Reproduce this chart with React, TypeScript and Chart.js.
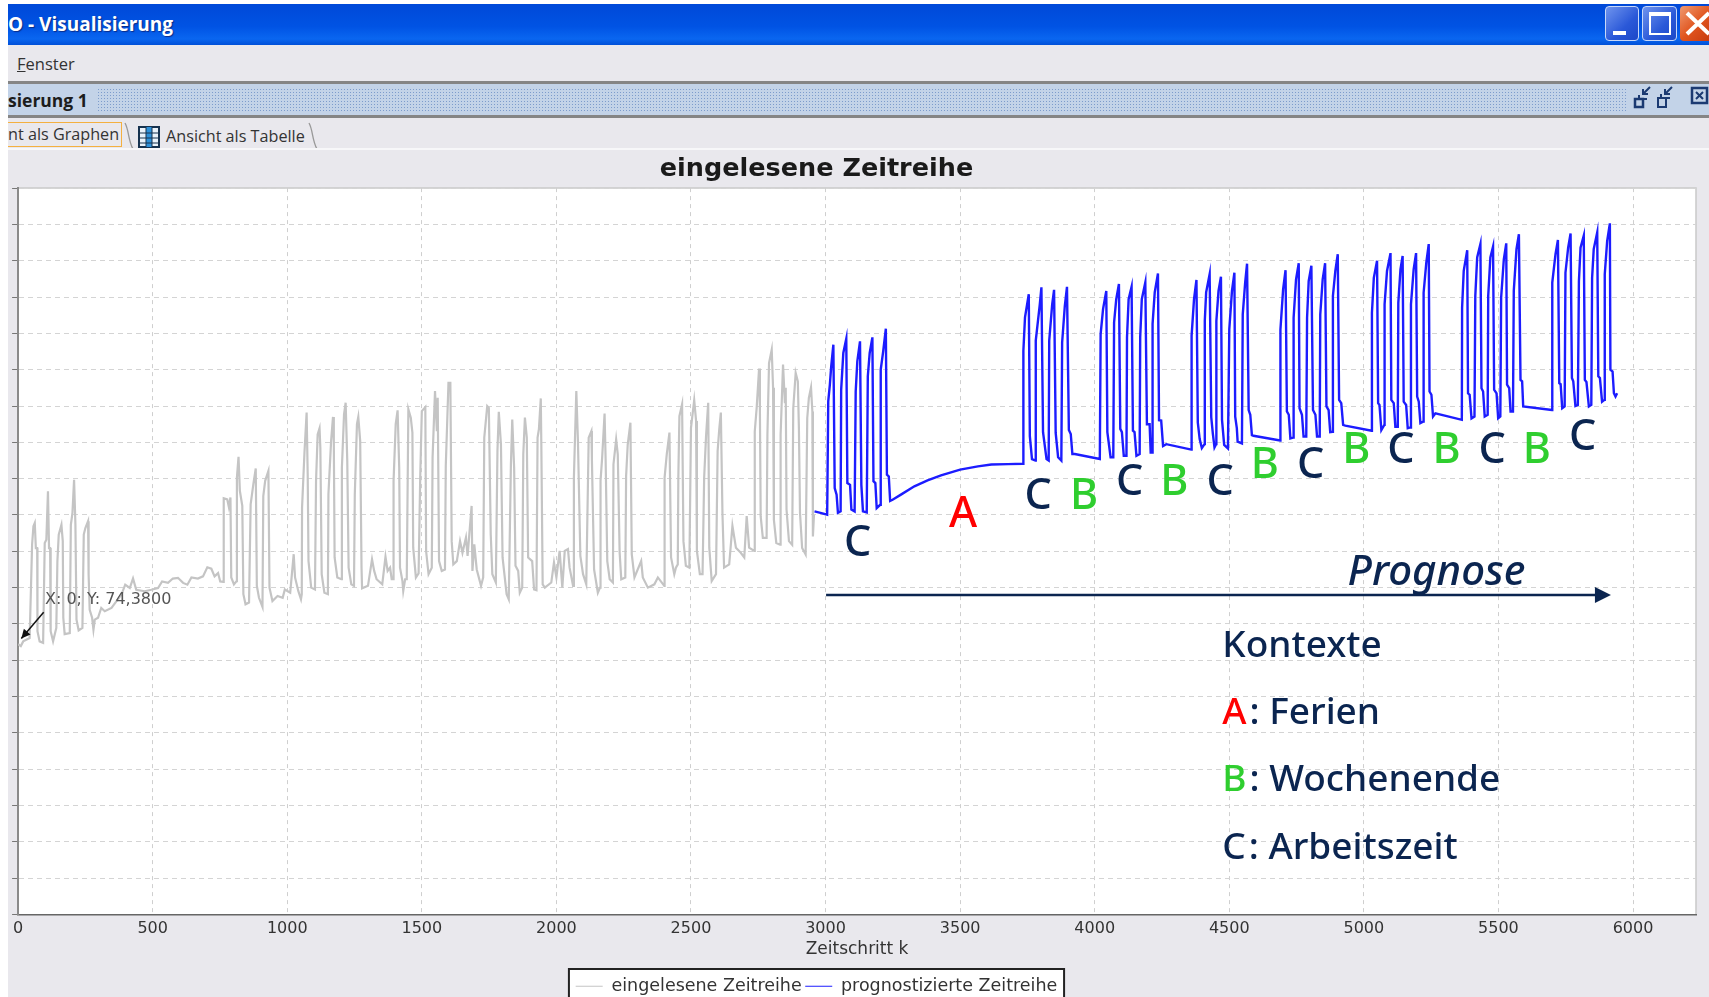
import React, { useEffect, useRef } from "react";
import { Chart, registerables } from "chart.js";

Chart.register(...registerables);

// ---------- chart text ----------
const chartTitle = "eingelesene Zeitreihe";
const xAxisTitle = "Zeitschritt k";
const observedName = "eingelesene Zeitreihe";
const forecastName = "prognostizierte Zeitreihe";
const tooltipText = "X: 0; Y: 74,3800";
const prognoseText = "Prognose";
const xTickValues = [0, 500, 1000, 1500, 2000, 2500, 3000, 3500, 4000, 4500, 5000, 5500, 6000];

// ---------- observed series: [k, value] ----------
const observedWeek1 = [[0,74.4],[10,73.9],[19,75.2],[43,76.1],[52,101.8],[57,106.9],[62,107.8],[66,100.9],[71,100.9],[72,78],[80,75.2],[93,74.8],[99,102.3],[105,103.2],[111,116.5],[115,100.9],[119,100.9],[121,78],[130,75.2],[139,78],[142,78.9],[146,97.2],[151,104.6],[161,107.3],[166,102.8],[168,81.7],[173,77.2],[192,77.5],[196,107.3],[202,110.6],[208,119.7],[213,107.3],[217,81.2],[225,78.2],[239,78.9],[244,104.6],[250,106.4],[260,108.3],[262,93.6],[266,83.9]];
const observedQuiet = [[275,81.7],[280,78.4],[285,81.2],[297,81.7],[309,84.4],[322,83.5],[347,84.4],[365,86.2],[384,88.1],[398,90.8],[415,89.9],[427,92.5],[439,89.4],[470,89],[495,89.4],[520,89.9],[535,91.7],[557,91.3],[575,92.5],[594,92.7],[613,91.3],[629,90.8],[644,92.8],[668,92.5],[687,93.1],[703,95.6],[718,95.2],[730,93.1],[743,94],[751,91.7],[763,91.6]];
const observedWeek2 = [[764,114.6],[777,114.3],[783,112.2],[789,114.8],[792,92.8],[802,90.9],[812,91.8],[813,120.3],[819,126],[824,116.6],[833,112.5],[837,88.2],[845,85.4],[858,85.9],[864,112.9],[874,118.4],[883,122.8],[887,90.5],[895,87.2],[908,84.7],[911,115.2],[918,119.4],[930,122.1],[934,90],[945,86.3],[964,87.7],[983,87.2],[991,89.5],[1011,88.6],[1024,99.2],[1029,92.8],[1041,89.1],[1051,86.8],[1054,88.2]];
const observedWeek3 = [[1055,112],[1064,127.2],[1072,138.2],[1076,121.2],[1079,97.3],[1089,90],[1103,89.5],[1107,119.4],[1113,132.2],[1120,133.9],[1123,128.5],[1128,93.7],[1138,88.6],[1151,88.2],[1153,115.7],[1163,130.4],[1170,137],[1173,130.4],[1176,98.3],[1186,92.8],[1201,92.3],[1203,123],[1211,137.7],[1217,140.9],[1223,124.9],[1228,95.5],[1238,90.9],[1248,90.5],[1251,115.7],[1259,135],[1264,137],[1271,130.4],[1276,95.5],[1278,89.8],[1300,90.5],[1315,97.8],[1323,94.6],[1332,92.3],[1353,90.9],[1365,98.5],[1373,94.6],[1382,95.5],[1388,92.3],[1394,92.3]];
const observedWeek4 = [[1395,119.4],[1403,135],[1410,138.8],[1416,123],[1419,95.5],[1428,91.8],[1431,89.1],[1438,92.3],[1444,92.3],[1450,139.1],[1459,136.8],[1465,132.7],[1468,101],[1478,92.8],[1488,93.9],[1494,120.3],[1500,138.6],[1513,139.7],[1516,100],[1525,93.7],[1537,95.5],[1540,125.8],[1549,144.1],[1556,133.1],[1559,142.3],[1564,97.3],[1574,94.6],[1586,95],[1589,123.5],[1599,146.4],[1606,146.4],[1611,102.8],[1617,96.4],[1630,97.3],[1642,102.8],[1651,99.6],[1664,103.8],[1670,98.7],[1685,112.5],[1688,94.6],[1695,101.9],[1704,95],[1720,90.5],[1728,92.8]];
const observedWeek5 = [[1732,131.3],[1743,140],[1749,139.5],[1756,104.7],[1762,93.7],[1775,91.4],[1781,127.6],[1786,138.4],[1794,129.4],[1800,98.3],[1815,88.2],[1823,86.8],[1831,123.9],[1836,136.3],[1843,123],[1848,96],[1858,94.6],[1864,88.6],[1873,90],[1877,126.7],[1883,136.8],[1890,131.3],[1895,98.3],[1910,97.3],[1917,89.5],[1926,89.3],[1930,131.3],[1935,133.6],[1942,142.1],[1944,129.4],[1949,90.9],[1957,90],[1981,91.4],[1991,96.9],[2000,92.8],[2012,100.1],[2022,90],[2031,100.1],[2043,100.6],[2049,95.5],[2062,90.5]];
const observedWeek6 = [[2065,120.3],[2074,144.1],[2080,130.4],[2089,98.7],[2099,93.7],[2111,90.9],[2120,131.3],[2130,133.1],[2132,124.9],[2140,95],[2154,88.6],[2162,90],[2164,119.4],[2170,125.8],[2179,137.9],[2183,124.9],[2189,97.3],[2198,92.3],[2210,91.4],[2212,123.9],[2222,130.8],[2228,126.7],[2235,99.6],[2241,92.3],[2256,92.8],[2259,120.7],[2265,129.4],[2275,135.4],[2280,99.2],[2290,92.8],[2315,97.3],[2321,92.8],[2340,90],[2364,90.9],[2377,92.8],[2401,90.5]];
const observedWeek7 = [[2402,120.3],[2410,126.7],[2420,132.7],[2426,98.3],[2438,93.7],[2444,95.5],[2451,96.4],[2453,120.3],[2457,137.2],[2467,140.5],[2472,102.8],[2481,96],[2494,95.5],[2500,134],[2512,141.6],[2519,135.9],[2522,100.1],[2533,93.7],[2543,93.7],[2549,120.3],[2556,131.7],[2564,140.9],[2568,101],[2577,91.8],[2593,93.7],[2599,127.6],[2605,133.6],[2611,138.2],[2617,110.2],[2623,95.5],[2642,96.4],[2654,107],[2667,101],[2685,99.6],[2698,98.3],[2707,109.7],[2716,101],[2735,100.1]];
const observedWeek8 = [[2737,133],[2744,139.4],[2753,150.3],[2756,139.9],[2759,109.6],[2767,103.7],[2781,103.7],[2784,132.1],[2790,151.8],[2800,155.5],[2805,145],[2808,108.7],[2817,102.3],[2831,101.8],[2833,132.1],[2842,151.4],[2849,140.8],[2852,145],[2855,111.5],[2864,102.8],[2876,101.8],[2880,139.4],[2889,149.1],[2897,146.8],[2901,133.9],[2905,110.6],[2913,100.9],[2926,99.1],[2932,136.7],[2938,142.2],[2946,145.1],[2951,138.5],[2953,104.1],[2957,110.1]];

// ---------- forecast series: [k, value] ----------
const forecastGroup1 = [[2959,111],[2981,110.6],[3006,110.1],[3010,141.3],[3016,145.9],[3021,150.9],[3029,156.9],[3034,117.4],[3041,115.6],[3046,110.6],[3056,111],[3058,144.5],[3066,154.6],[3077,158.5],[3081,118.8],[3091,118.3],[3096,111.5],[3108,111],[3112,144],[3118,152.3],[3128,157.8],[3133,118.3],[3139,111],[3153,110.7],[3157,148.2],[3164,154.6],[3174,158.9],[3178,119.3],[3185,118.8],[3190,111.9],[3203,112.8],[3205,150],[3214,155],[3224,161.3],[3228,121.1],[3235,120.6],[3240,113.9],[3249,114.2]];
const forecastHoliday = [[3280,115.6],[3330,117.9],[3379,119.5],[3429,120.9],[3500,122.5],[3566,123.4],[3616,123.9],[3678,124],[3734,124.1]];
const forecastGroup2 = [[3735,155.2],[3741,164.4],[3750,168.5],[3755,170.8],[3759,131.7],[3767,125.4],[3780,125],[3781,158],[3796,168],[3802,172.7],[3808,132.8],[3821,125.4],[3829,125],[3831,158],[3842,168],[3849,172],[3855,132.6],[3864,125.9],[3876,125],[3879,157.5],[3889,167.6],[3897,172.8],[3904,133.4],[3911,132.3],[3917,126.8],[3926,126.8],[4019,125.4]];
const forecastGroup3 = [[4022,159.8],[4031,166.7],[4043,171.7],[4047,132.8],[4059,125.9],[4069,125.9],[4072,163],[4080,169.4],[4090,173.6],[4095,133.7],[4101,132.8],[4108,126.3],[4118,126.3],[4120,158.9],[4126,169.4],[4137,172.8],[4142,133.2],[4148,132.8],[4155,126.3],[4167,126.8],[4169,158.9],[4175,169.4],[4188,174],[4194,135],[4204,135],[4208,127.2],[4214,127.2],[4215,162.6],[4223,171.3],[4235,176.5],[4239,136.1],[4247,136],[4254,129],[4266,129.5],[4359,128]];
const forecastGroup4 = [[4360,159.4],[4369,169.4],[4378,174.7],[4383,135.5],[4390,130.9],[4398,128.4],[4408,129.5],[4409,163.5],[4414,171.3],[4427,176.3],[4433,136.9],[4439,132.3],[4445,128.6],[4451,129.5],[4452,163.4],[4460,171.7],[4469,175.6],[4473,136.2],[4481,129.3],[4495,128.3],[4500,161.1],[4510,171.7],[4519,176.7],[4522,137.1],[4528,133.9],[4531,130.2],[4547,129.7],[4550,165.2],[4559,174],[4566,179.2],[4572,138.9],[4578,137.6],[4584,132],[4590,131.8],[4689,130.5]];
const forecastGroup5 = [[4690,161],[4700,172.1],[4709,177.4],[4714,138.5],[4721,137.6],[4727,131.1],[4737,131.3],[4739,164.3],[4748,174.9],[4758,179.3],[4761,139.4],[4770,137.6],[4776,131.6],[4786,131.6],[4789,164.3],[4795,174.4],[4805,178.6],[4811,138.9],[4820,137.6],[4826,131.6],[4836,131.6],[4838,165.2],[4847,174.9],[4856,179.3],[4861,139.9],[4869,138.9],[4875,132.8],[4884,132.9],[4885,170.3],[4894,177.2],[4903,181.8],[4908,141.7],[4916,140.8],[4923,134.8],[4931,134.6],[5029,133.2]];
const forecastGroup6 = [[5030,165.7],[5037,175.3],[5049,180],[5053,140.8],[5058,140.3],[5065,133.4],[5076,134.8],[5077,168],[5086,177.2],[5099,182.1],[5102,141.7],[5111,140.8],[5117,134.3],[5126,134.3],[5128,168.4],[5136,177.6],[5144,181.3],[5148,141.2],[5157,140.3],[5163,133.9],[5173,134.1],[5175,168],[5185,177.6],[5194,182.1],[5198,142.6],[5204,141.2],[5210,135.3],[5220,135.7],[5222,171.2],[5232,179.5],[5241,184.6],[5244,144],[5251,143.1],[5257,137.1],[5266,138],[5364,136.2]];
const forecastGroup7 = [[5365,167.1],[5371,177.2],[5384,182.9],[5387,143.5],[5393,143.1],[5400,136.6],[5411,137.1],[5414,170.3],[5421,180.9],[5433,184.6],[5437,144.9],[5443,144],[5449,137.1],[5460,137.6],[5462,170.3],[5470,180.9],[5480,183.9],[5484,144.5],[5493,143.5],[5499,136.6],[5507,137.1],[5510,169.8],[5520,180.4],[5529,184.8],[5532,145.9],[5540,144.9],[5545,138.5],[5554,138.5],[5557,171.7],[5567,183.2],[5576,187.3],[5582,147.2],[5588,146.8],[5592,139.9],[5699,138.9]];
const forecastGroup8 = [[5700,174],[5712,181.8],[5721,185.7],[5726,146.3],[5731,146],[5737,139.4],[5746,139.9],[5749,176.7],[5759,183.6],[5768,187.5],[5773,147.7],[5778,146.8],[5786,140],[5795,140.3],[5799,174.4],[5805,183.6],[5817,186.9],[5821,147.2],[5827,146.6],[5836,139.9],[5845,140.3],[5848,175.3],[5854,183.2],[5867,187.8],[5871,148.2],[5877,147.7],[5885,141.2],[5894,141.7],[5895,176.3],[5904,185.5],[5914,190.3],[5916,150],[5924,149.5],[5929,143.5],[5935,142.6],[5941,143.5]];

// ---------- context annotations ----------
const contextLetters = ["C","A","C","B","C","B","C","B","C","B","C","B","C","B","C"];
const contextK = [3119,3511,3790,3960,4130,4296,4466,4632,4802,4972,5138,5307,5477,5643,5813];
const contextValue = [98.7,106.7,111.6,111.6,115.6,115.6,115.6,120.3,120.3,124.3,124.3,124.3,124.3,124.3,128];
const legendHeading = "Kontexte";
const legendKeys = ["A","B","C"];
const legendTexts = [": Ferien",": Wochenende",": Arbeitszeit"];
const legendValues = [52.4,34,15.4];
const letterColor: Record<string,string> = { A: "#ff0000", B: "#2fce2f", C: "#0b2550" };

const join = (...parts: number[][][]) => parts.flat().map(([x, y]) => ({ x, y }));

const AREA = "#e9e8ed";

const annotations = {
  id: "annotations",
  beforeDraw(chart: any) {
    const { ctx, chartArea: a, legend } = chart;
    ctx.save();
    ctx.fillStyle = "#ffffff";
    ctx.fillRect(a.left, a.top, a.right - a.left, a.bottom - a.top);
    ctx.strokeStyle = "#c9c9c9";
    ctx.lineWidth = 1.5;
    ctx.beginPath();
    ctx.moveTo(a.left, a.top);
    ctx.lineTo(a.right, a.top);
    ctx.lineTo(a.right, a.bottom);
    ctx.stroke();
    const lw = legend.lineWidths[0] + 10;
    const cx = (legend.left + legend.right) / 2;
    const top = legend.top - 5;
    ctx.fillStyle = "#ffffff";
    ctx.strokeStyle = "#222222";
    ctx.lineWidth = 2;
    ctx.fillRect(cx - lw / 2, top, lw, chart.height - top + 4);
    ctx.strokeRect(cx - lw / 2, top, lw, chart.height - top + 4);
    ctx.restore();
  },
  afterDatasetsDraw(chart: any) {
    const { ctx, scales } = chart;
    const px = (k: number) => scales.x.getPixelForValue(k);
    const py = (v: number) => scales.y.getPixelForValue(v);
    ctx.save();
    ctx.textBaseline = "alphabetic";
    ctx.textAlign = "center";

    // context letters
    ctx.font = '500 43px "Noto Sans"';
    contextLetters.forEach((l, i) => {
      ctx.fillStyle = letterColor[l];
      ctx.fillText(l, px(contextK[i]), py(contextValue[i]));
    });

    // forecast arrow
    const navy = "#0b2550";
    const ax0 = px(3002), ax1 = px(5918), ay = py(88);
    ctx.strokeStyle = navy;
    ctx.fillStyle = navy;
    ctx.lineWidth = 2.5;
    ctx.beginPath();
    ctx.moveTo(ax0, ay);
    ctx.lineTo(ax1 - 10, ay);
    ctx.stroke();
    ctx.beginPath();
    ctx.moveTo(ax1, ay);
    ctx.lineTo(ax1 - 16, ay - 8);
    ctx.lineTo(ax1 - 16, ay + 8);
    ctx.closePath();
    ctx.fill();
    ctx.font = 'italic 500 42px "Noto Sans"';
    ctx.fillText(prognoseText, px(5270), py(90.8));

    // key
    ctx.textAlign = "left";
    const keyX = px(4474);
    ctx.font = '500 37px "Noto Sans"';
    ctx.fillStyle = navy;
    ctx.fillText(legendHeading, keyX, py(71));
    legendKeys.forEach((l, i) => {
      ctx.fillStyle = letterColor[l];
      ctx.fillText(l, keyX, py(legendValues[i]));
      const w = ctx.measureText(l).width;
      ctx.fillStyle = navy;
      ctx.fillText(legendTexts[i], keyX + w + 3, py(legendValues[i]));
    });

    // data-point tooltip
    ctx.font = '16px "DejaVu Sans"';
    ctx.fillStyle = "#555555";
    ctx.textBaseline = "middle";
    ctx.fillText(tooltipText, px(100), py(86.6));
    const tx0 = px(95), ty0 = py(83.2), tx1 = px(12), ty1 = py(76);
    ctx.strokeStyle = "#111111";
    ctx.fillStyle = "#111111";
    ctx.lineWidth = 1.5;
    ctx.beginPath();
    ctx.moveTo(tx0, ty0);
    ctx.lineTo(tx1, ty1);
    ctx.stroke();
    const ang = Math.atan2(ty1 - ty0, tx1 - tx0);
    ctx.beginPath();
    ctx.moveTo(tx1, ty1);
    ctx.lineTo(tx1 - 10 * Math.cos(ang - 0.45), ty1 - 10 * Math.sin(ang - 0.45));
    ctx.lineTo(tx1 - 10 * Math.cos(ang + 0.45), ty1 - 10 * Math.sin(ang + 0.45));
    ctx.closePath();
    ctx.fill();
    ctx.restore();
  },
};

// The original window is cropped, so title and legend centre left of the plot.
const shiftCentred = {
  id: "shiftCentred",
  afterLayout(chart: any) {
    const centre = 808.5;
    const tb = chart.titleBlock;
    const half = 400;
    tb.left = centre - half;
    tb.right = centre + half;
    const lg = chart.legend;
    lg.left = centre - half;
    lg.right = centre + half;
    lg.top = chart.height - 23;
    lg.adjustHitBoxes();
  },
};

function ChartCanvas() {
  const ref = useRef<HTMLCanvasElement>(null);
  useEffect(() => {
    const chart = new Chart(ref.current!, {
      type: "line",
      data: {
        datasets: [
          {
            label: observedName,
            data: join(observedWeek1, observedQuiet, observedWeek2, observedWeek3, observedWeek4, observedWeek5, observedWeek6, observedWeek7, observedWeek8),
            borderColor: "#c4c4c4",
            backgroundColor: "#c4c4c4",
            borderWidth: 2.2,
            pointRadius: 0,
            tension: 0,
            fill: false,
          },
          {
            label: forecastName,
            data: join(forecastGroup1, forecastHoliday, forecastGroup2, forecastGroup3, forecastGroup4, forecastGroup5, forecastGroup6, forecastGroup7, forecastGroup8),
            borderColor: "#1c1cff",
            backgroundColor: "#1c1cff",
            borderWidth: 2.4,
            pointRadius: 0,
            tension: 0,
            fill: false,
          },
        ],
      },
      options: {
        responsive: false,
        animation: false,
        parsing: false,
        normalized: true,
        layout: { padding: { right: 13 } },
        plugins: {
          tooltip: { enabled: false },
          title: {
            display: true,
            text: chartTitle,
            color: "#1a1a1a",
            font: { family: '"DejaVu Sans"', size: 25.5, weight: "bold" },
            padding: { top: 4.5, bottom: 3 },
          },
          legend: {
            display: true,
            position: "bottom",
            labels: {
              usePointStyle: true,
              pointStyle: "line",
              pointStyleWidth: 27,
              color: "#333333",
              padding: 3.5,
              font: { family: '"DejaVu Sans"', size: 17.5 },
              generateLabels: (c: any) =>
                Chart.defaults.plugins.legend.labels.generateLabels(c).map((it: any) => ({ ...it, lineWidth: 1.2 })),
            },
          },
        },
        scales: {
          x: {
            type: "linear",
            min: 0,
            max: 6234,
            afterFit: (s: any) => { s.height = 51.5; },
            afterBuildTicks: (s: any) => { s.ticks = xTickValues.map((value) => ({ value })); },
            ticks: { callback: (v: any) => String(v), maxRotation: 0, autoSkip: false, color: "#333333", padding: 5, font: { family: '"DejaVu Sans"', size: 16 } },
            title: { display: true, text: xAxisTitle, color: "#333333", padding: { top: 0, bottom: 6 }, font: { family: '"DejaVu Sans"', size: 17 } },
            grid: { color: "#cfcfcf", drawTicks: false, tickLength: 0 } as any,
            border: { display: true, color: "#666666", width: 1.5, dash: [4, 4] } as any,
          },
          y: {
            type: "linear",
            min: 0,
            max: 200,
            afterFit: (s: any) => { s.width = 8; },
            ticks: { stepSize: 10, display: false },
            grid: { color: "#d4d4d4", tickColor: "#777777", tickLength: 6, tickBorderDash: [], drawTicks: true },
            border: { display: true, color: "#8a8a8a", width: 2, dash: [5, 4] } as any,
          },
        },
      } as any,
      plugins: [annotations, shiftCentred],
    });
    return () => chart.destroy();
  }, []);
  return <canvas ref={ref} width={1701} height={847} style={{ position: "absolute", left: 8, top: 150, display: "block" }} />;
}

const abs = (left: number, top: number, width: number, height: number, extra: React.CSSProperties = {}): React.CSSProperties => ({
  position: "absolute", left, top, width, height, ...extra,
});

const ui = '"Open Sans", sans-serif';

function Chrome() {
  return (
    <>
      <div style={abs(8, 4, 1701, 41, { background: "linear-gradient(#0049d8 0%, #0053e4 55%, #0a66f0 85%, #0050d8 100%)" })} />
      <div style={abs(8, 9, 400, 30, { color: "#fff", font: `700 19px/30px ${ui}`, textShadow: "1px 1px 1px #0a2c88" })}>O - Visualisierung</div>
      <div style={abs(1605, 6, 34, 35, { borderRadius: 4, border: "1px solid #c8d8f8", boxSizing: "border-box", background: "linear-gradient(135deg,#6f94ee,#2a58d8 60%,#1c48c8)" })}>
        <div style={abs(7, 24, 13, 4, { background: "#fff" })} />
      </div>
      <div style={abs(1642, 6, 35, 35, { borderRadius: 4, border: "1px solid #c8d8f8", boxSizing: "border-box", background: "linear-gradient(135deg,#6f94ee,#2a58d8 60%,#1c48c8)" })}>
        <div style={abs(6, 5, 22, 23, { border: "2px solid #fff", borderTopWidth: 4, boxSizing: "border-box" })} />
      </div>
      <div style={abs(1680, 6, 29, 35, { borderRadius: "4px 0 0 4px", background: "linear-gradient(135deg,#f09a70,#e0541e 55%,#c83c10)" })}>
        <svg width="29" height="35" style={{ position: "absolute", left: 0, top: 0 }}>
          <path d="M7 7L29 28M29 7L7 28" stroke="#fff" strokeWidth="4" />
        </svg>
      </div>

      <div style={abs(8, 45, 1701, 105, { background: AREA })} />
      <div style={abs(17, 50, 100, 28, { color: "#333", font: `16.5px/28px ${ui}` })}><u>F</u>enster</div>
      <div style={abs(8, 81, 1701, 3, { background: "#858585" })} />
      <div style={abs(8, 84, 1701, 31, { background: "#c3d3e8" })} />
      <div style={abs(8, 86, 100, 28, { color: "#1c1c1c", font: `700 17.5px/28px ${ui}` })}>sierung 1</div>
      <div style={abs(97, 88, 1530, 24, { backgroundImage: "radial-gradient(#7d9ccc 38%, transparent 42%)", backgroundSize: "3px 3px" })} />
      <svg width="90" height="30" style={{ position: "absolute", left: 1630, top: 85 }} fill="none" stroke="#1b3a72" strokeWidth="2">
        <rect x="5" y="14" width="8" height="8" strokeWidth="2.5" />
        <path d="M13 14h4M9 10v4M20 2l-7 7M13 4v5h5" />
        <path d="M28 13h8v9h-8zM36 13h4M31 9v4M42 2l-7 7M35 4v5h5" />
        <rect x="62" y="3" width="15" height="15" strokeWidth="2.5" />
        <path d="M66 7l7 7M73 7l-7 7" />
      </svg>
      <div style={abs(8, 115, 1701, 3, { background: "#858585" })} />

      <div style={abs(8, 122, 114, 25, { border: "1.5px solid #f4b040", borderLeft: "none", boxSizing: "border-box", color: "#333", font: `16.2px/22px ${ui}`, whiteSpace: "nowrap" })}>nt als Graphen</div>
      <svg width="200" height="30" style={{ position: "absolute", left: 120, top: 120 }} fill="none" stroke="#999" strokeWidth="1.3">
        <path d="M5 3C9 10 8 20 13 29" />
        <path d="M189 3C193 10 192 20 197 29" />
      </svg>
      <svg width="22" height="22" style={{ position: "absolute", left: 138, top: 126 }}>
        <rect x="1" y="1" width="20" height="20" fill="#e9f2fa" stroke="#16324f" strokeWidth="2" />
        <rect x="8" y="1" width="6" height="20" fill="#2e90d8" />
        <path d="M1 7h20M1 12h20M1 17h20M8 1v20M14 1v20" stroke="#16324f" strokeWidth="1" />
      </svg>
      <div style={abs(166, 123, 160, 26, { color: "#333", font: `16.2px/26px ${ui}`, whiteSpace: "nowrap" })}>Ansicht als Tabelle</div>
      <div style={abs(8, 148, 1701, 2, { background: "#f7f7f9" })} />
    </>
  );
}

export default function App() {
  return (
    <div style={abs(0, 0, 1709, 997, { background: "#fff", overflow: "hidden" })}>
      <div style={abs(8, 150, 1701, 847, { background: AREA })} />
      <Chrome />
      <ChartCanvas />
    </div>
  );
}
